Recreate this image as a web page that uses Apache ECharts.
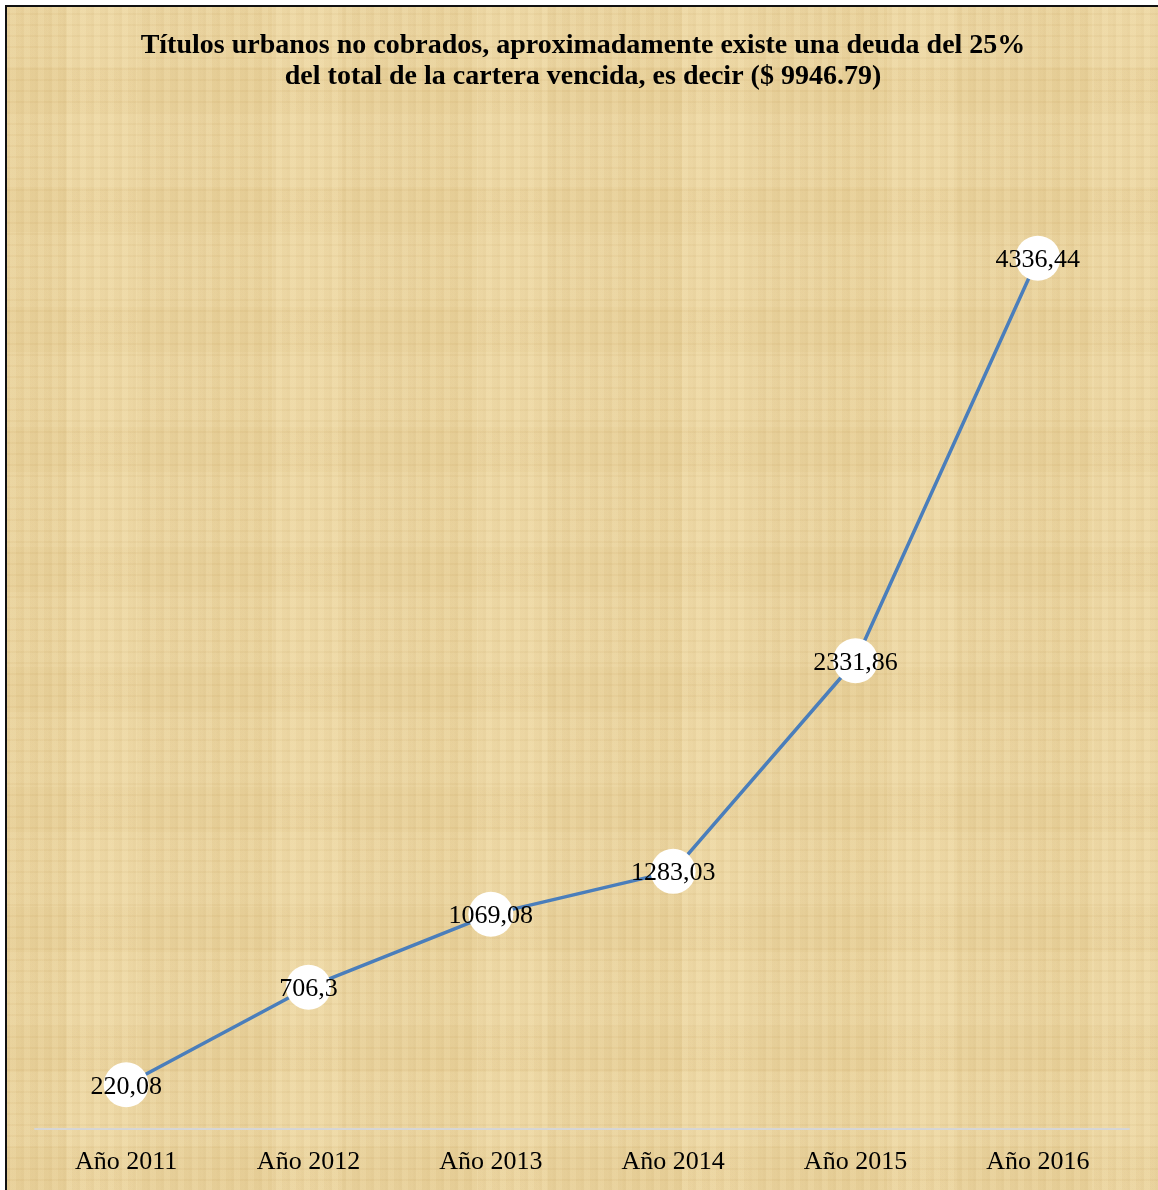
<!DOCTYPE html>
<html>
<head>
<meta charset="utf-8">
<script src="https://cdn.jsdelivr.net/npm/echarts@6/dist/echarts.min.js"></script>
<style>
  html, body { margin: 0; padding: 0; width: 1158px; height: 1190px; overflow: hidden; background: #ffffff; }
  #paper {
    position: absolute; left: 5px; top: 5px; width: 1153px; height: 1185px;
    border-left: 2px solid #111; border-top: 2px solid #111;
    background-color: #ebd5a1;
    background-image:
      repeating-linear-gradient(90deg, rgba(170,130,60,0.06) 0px, rgba(170,130,60,0.06) 3px, rgba(255,240,200,0.07) 3px, rgba(255,240,200,0.07) 9px, rgba(180,140,70,0.04) 9px, rgba(180,140,70,0.04) 14px),
      repeating-linear-gradient(0deg, rgba(170,130,60,0.05) 0px, rgba(170,130,60,0.05) 2px, rgba(255,240,200,0.06) 2px, rgba(255,240,200,0.06) 11px),
      repeating-linear-gradient(90deg, rgba(200,160,80,0.08) 0px, rgba(200,160,80,0.08) 60px, rgba(255,235,190,0.07) 60px, rgba(255,235,190,0.07) 130px, rgba(190,150,80,0.05) 130px, rgba(190,150,80,0.05) 205px),
      repeating-linear-gradient(0deg, rgba(200,160,80,0.06) 0px, rgba(200,160,80,0.06) 45px, rgba(255,235,190,0.05) 45px, rgba(255,235,190,0.05) 120px);
  }
  #main { position: absolute; left: 0; top: 0; width: 1158px; height: 1190px; }
</style>
</head>
<body>
<div id="paper"></div>
<div id="main"></div>
<script type="text/javascript">
    // datos del gráfico
    var categorias = ['Año 2011', 'Año 2012', 'Año 2013', 'Año 2014', 'Año 2015', 'Año 2016'];
    var valores = [220.08, 706.3, 1069.08, 1283.03, 2331.86, 4336.44];

    var myChart = echarts.init(document.getElementById('main'));

    var option = {
        backgroundColor: 'transparent',
        title: {
            text: 'Títulos urbanos no cobrados, aproximadamente existe una deuda del 25%\ndel total de la cartera vencida, es decir ($ 9946.79)',
            left: 578,
            textAlign: 'center',
            top: 25,
            textStyle: {
                fontFamily: 'Liberation Serif',
                fontWeight: 'bold',
                fontSize: 28,
                lineHeight: 31,
                color: '#000'
            }
        },
        grid: {
            left: 35,
            right: 29,
            top: 125,
            bottom: 61
        },
        xAxis: {
            type: 'category',
            data: categorias,
            boundaryGap: true,
            axisLine: { lineStyle: { color: '#d6d6d6', width: 2 } },
            axisTick: { show: false },
            axisLabel: {
                margin: 20,
                fontFamily: 'Liberation Serif',
                fontSize: 26,
                color: '#000'
            }
        },
        yAxis: {
            type: 'value',
            min: 0,
            max: 5000,
            show: false,
            splitLine: { show: false }
        },
        series: [{
            type: 'line',
            data: valores,
            symbol: 'circle',
            symbolSize: 45,
            itemStyle: { color: '#ffffff' },
            lineStyle: { color: '#4a7ebb', width: 3.5 },
            label: {
                show: true,
                position: 'inside',
                offset: [0, 2],
                fontFamily: 'Liberation Serif',
                fontSize: 26,
                color: '#000',
                formatter: function (p) {
                    return String(p.value).replace('.', ',');
                }
            },
            z: 3
        }]
    };

    myChart.setOption(option);
</script>
</body>
</html>
